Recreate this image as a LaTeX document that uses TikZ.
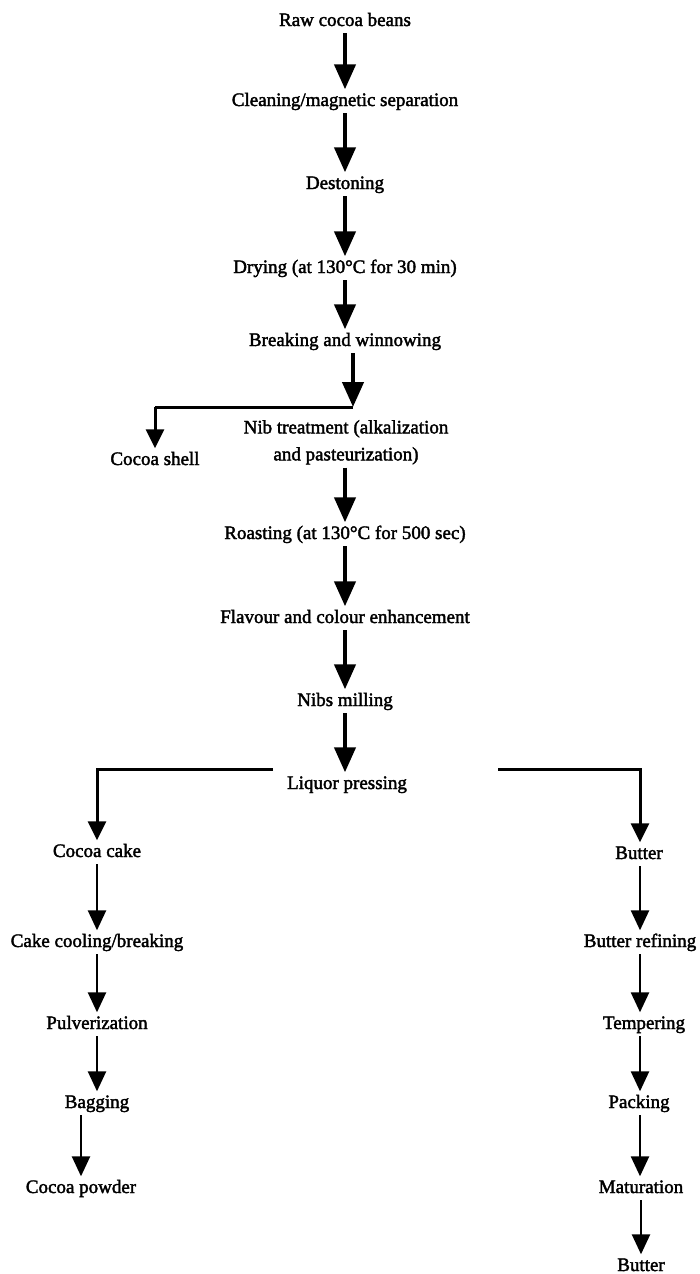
\documentclass[tikz,border=0pt]{standalone}
\usepackage{fontspec}
\setmainfont{Liberation Serif}
\newfontfamily\lblfont{Liberation Serif}[FakeBold=2]
\usetikzlibrary{arrows.meta}
\begin{document}
\begin{tikzpicture}[x=1pt,y=-1pt,
  lbl/.style={anchor=base,inner xsep=0pt,inner ysep=3pt,text height=13.5pt,text depth=4pt,font=\lblfont\fontsize{19}{27}\selectfont},
  bigarr/.style={line width=4.3pt,-{Triangle[width=21pt,length=25pt]}},
  midarr/.style={line width=3pt,-{Triangle[width=18pt,length=19pt]}},
  midline/.style={line width=3pt},
  smallarr/.style={line width=2.5pt,-{Triangle[width=18pt,length=20pt]}}]
\fill[white] (0,0) rectangle (699,1274);
\useasboundingbox (0,0) rectangle (699,1274);
% main column
\node[lbl] (raw) at (345,26) {Raw cocoa beans};
\node[lbl] (clean) at (345,106) {Cleaning/magnetic separation};
\node[lbl] (destone) at (345,189) {Destoning};
\node[lbl] (dry) at (345,273) {Drying (at 130°C for 30 min)};
\node[lbl] (brk) at (345,346) {Breaking and winnowing};
\node[anchor=north,inner xsep=0pt,inner ysep=3pt,align=center,font=\lblfont\fontsize{19}{27}\selectfont] (nib) at (346,417) {Nib treatment (alkalization\\and pasteurization)};
\node[lbl] (shell) at (155,465) {Cocoa shell};
\node[lbl] (roast) at (345,539) {Roasting (at 130°C for 500 sec)};
\node[lbl] (flav) at (345,623) {Flavour and colour enhancement};
\node[lbl] (mill) at (345,706) {Nibs milling};
\node[lbl] (liquor) at (347,789) {Liquor pressing};
% left column
\node[lbl] (cake) at (97,857) {Cocoa cake};
\node[lbl] (cool) at (97,947) {Cake cooling/breaking};
\node[lbl] (pulv) at (97,1029) {Pulverization};
\node[lbl] (bag) at (97,1108) {Bagging};
\node[lbl] (powder) at (81,1193) {Cocoa powder};
% right column
\node[lbl] (butter1) at (639,859) {Butter};
\node[lbl] (refine) at (640,947) {Butter refining};
\node[lbl] (temper) at (644,1029) {Tempering};
\node[lbl] (pack) at (639,1108) {Packing};
\node[lbl] (matur) at (641,1193) {Maturation};
\node[lbl] (butter2) at (641,1271) {Butter};
% junctions
\coordinate (j1) at (353,407);
\coordinate (la) at (273,769);
\coordinate (ra) at (498,769);
% main arrows
\draw[bigarr] (raw.south) -- (clean.north);
\draw[bigarr] (clean.south) -- (destone.north);
\draw[bigarr] (destone.south) -- (dry.north);
\draw[bigarr] (dry.south) -- (brk.north);
\draw[bigarr] (brk.south -| j1) -- (j1);
\draw[midline] (j1) -- (j1 -| shell);
\draw[midarr] (j1 -| shell) -- (shell.north);
\draw[bigarr] (nib.south -| roast) -- (roast.north);
\draw[bigarr] (roast.south) -- (flav.north);
\draw[bigarr] (flav.south) -- (mill.north);
\draw[bigarr] (mill.south) -- (mill.south |- liquor.north);
% branches
\draw[midarr] (la) -| (cake.north);
\draw[midarr] (ra) -| (butter1.north -| refine);
% left chain
\draw[smallarr] (cake.south) -- (cool.north);
\draw[smallarr] (cool.south) -- (pulv.north);
\draw[smallarr] (pulv.south) -- (bag.north);
\draw[smallarr] (powder.north |- bag.south) -- (powder.north);
% right chain
\draw[smallarr] (butter1.south -| refine) -- (refine.north);
\draw[smallarr] (refine.south) -- (refine.south |- temper.north);
\draw[smallarr] (refine.south |- temper.south) -- (refine.south |- pack.north);
\draw[smallarr] (refine.south |- pack.south) -- (refine.south |- matur.north);
\draw[smallarr] (matur.south) -- (butter2.north);
\end{tikzpicture}
\end{document}
